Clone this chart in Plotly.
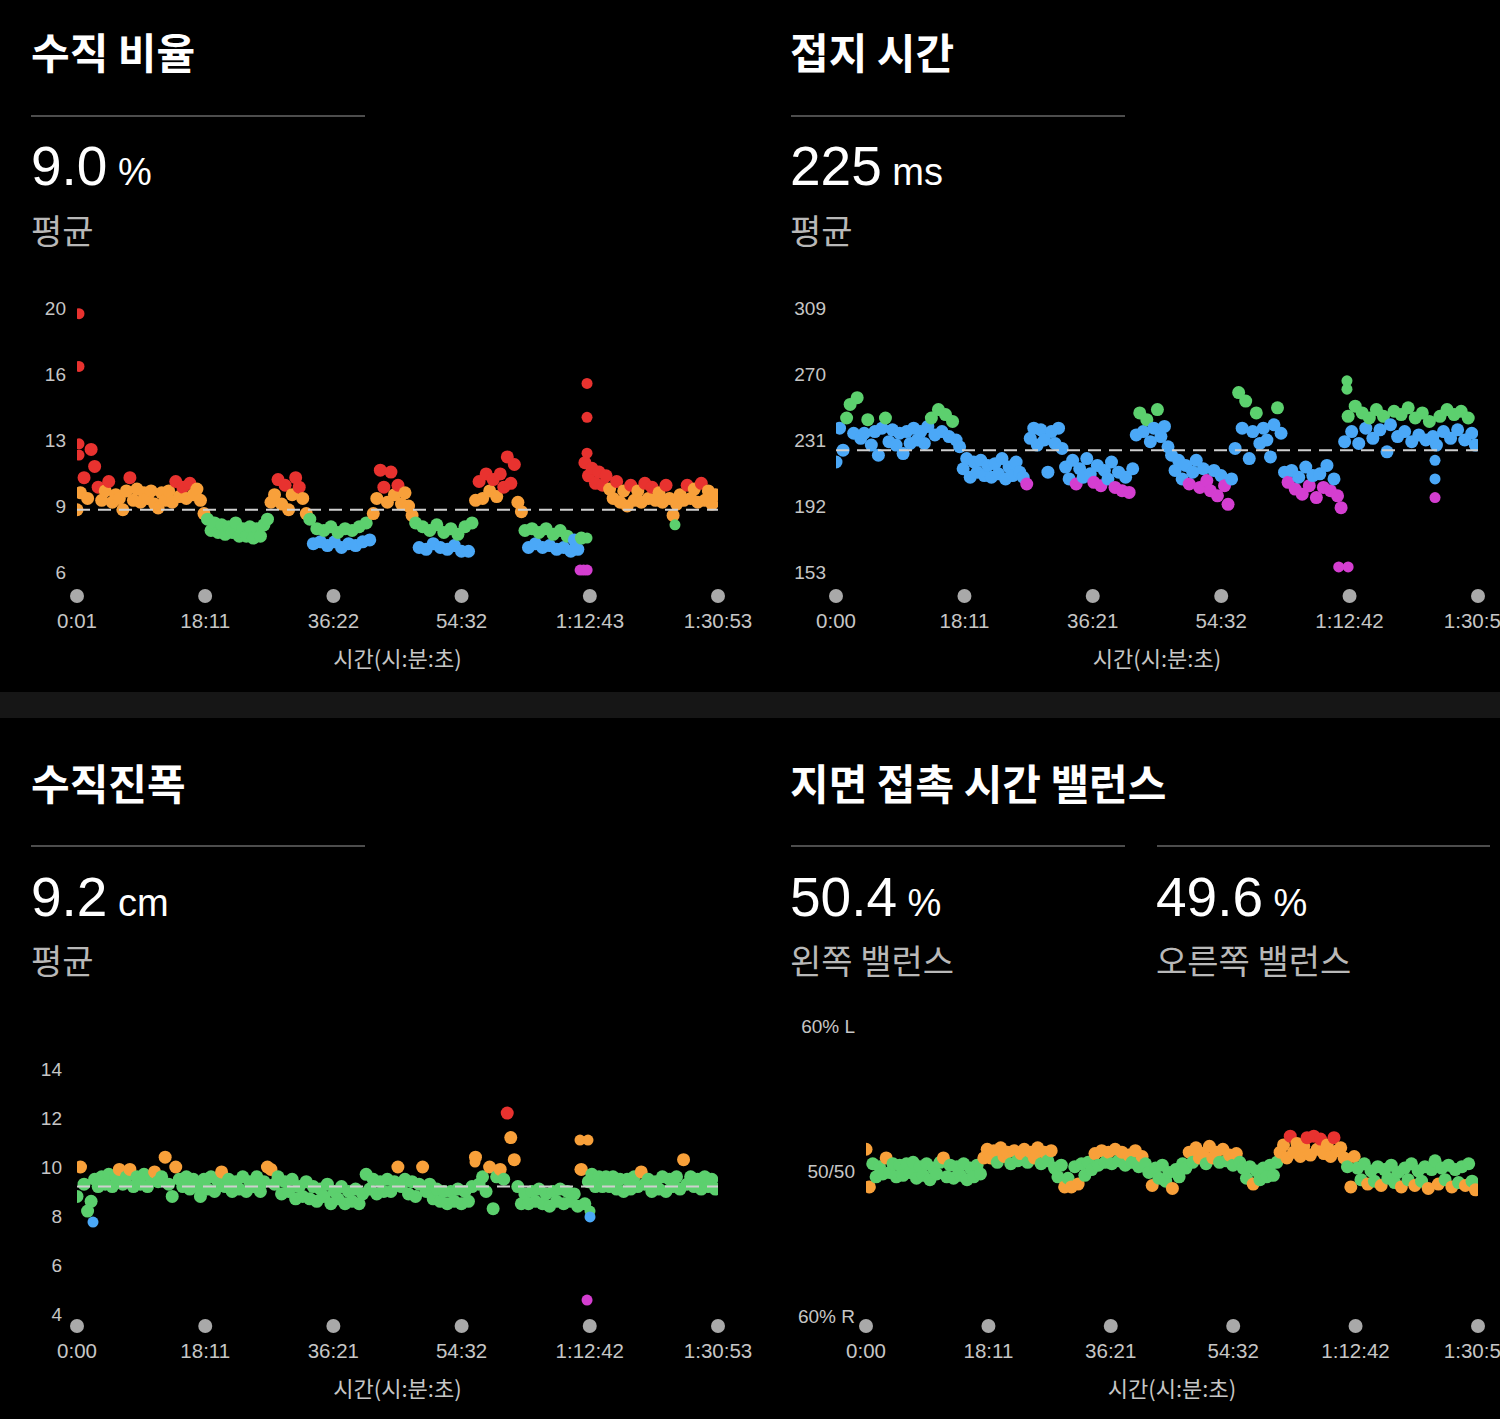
import plotly.graph_objects as go

W, H = 1500, 1419
STEP_S = 30  # seconds between plotted samples

# ---------------- data ----------------
# Vertical ratio (%), samples every 30 s starting at 0:01
vr_vals = [
    9.0, 9.9, 10.7, 9.6, 12.2, 11.3, 10.2, 9.5, 10.0, 10.5,
    9.4, 9.8, 9.6, 9.0, 10.0, 10.7, 9.5, 10.1, 9.4, 9.9,
    9.6, 10.0, 9.3, 9.1, 9.9, 9.5, 10.0, 9.4, 10.5, 9.7,
    10.2, 9.6, 10.4, 9.8, 10.1, 9.5, 8.8, 8.5, 7.9, 8.3,
    7.8, 8.2, 7.7, 8.1, 7.8, 8.3, 7.6, 8.0, 7.6, 8.1,
    7.5, 8.0, 7.6, 8.2, 8.5, 9.4, 9.8, 10.6, 9.3, 10.3,
    9.0, 9.8, 10.7, 10.2, 9.6, 8.8, 8.5, 7.2, 8.0, 7.3,
    7.9, 7.1, 8.1, 7.3, 7.8, 7.0, 8.0, 7.2, 7.9, 7.1,
    8.1, 7.3, 8.3, 7.4, 8.8, 9.6, 11.1, 10.2, 9.4, 11.0,
    9.8, 10.3, 9.3, 9.9, 9.2, 8.7, 8.3, 7.0, 8.1, 6.9,
    7.9, 7.2, 8.2, 7.0, 7.8, 6.9, 8.0, 7.1, 7.7, 6.8,
    8.1, 6.8, 8.3, 9.5, 10.5, 9.6, 10.9, 10.0, 10.6, 9.7,
    10.9, 10.2, 11.8, 10.4, 11.4, 9.4, 8.9, 7.9, 7.0, 8.0,
    7.2, 7.8, 7.0, 8.0, 7.1, 7.7, 6.9, 7.9, 7.0, 7.6,
    6.8, 7.4, 6.9, 7.5, 11.5, 10.8, 11.2, 10.4, 11.0, 10.3,
    10.8, 10.1, 9.6, 10.5, 9.4, 10.0, 9.2, 10.3, 9.5, 10.0,
    9.4, 10.4, 9.6, 10.2, 9.5, 9.9, 9.4, 10.3, 9.6, 8.7,
    9.3, 9.8, 9.5, 10.3, 9.6, 10.1, 9.4, 10.4, 9.5, 10.0,
    9.3, 9.8,
]
vr_extra_t = [18, 18, 18, 18, 4339, 4339, 4339, 4280, 4310, 4340, 4339, 5087]
vr_extra_v = [19.4, 16.6, 12.5, 11.9, 15.7, 13.9, 12.0, 5.8, 5.8, 5.8, 7.5, 8.2]

# Ground contact time (ms), samples every 30 s starting at 0:00
gct_vals = [
    218, 238, 225, 244, 252, 235, 256, 232, 235, 243,
    228, 236, 222, 238, 244, 230, 237, 228, 235, 223,
    236, 229, 238, 231, 236, 229, 239, 244, 234, 249,
    236, 246, 233, 242, 231, 227, 214, 220, 209, 218,
    212, 219, 210, 216, 209, 217, 211, 220, 208, 215,
    210, 218, 212, 209, 205, 232, 238, 228, 237, 231,
    212, 236, 229, 238, 226, 215, 208, 219, 205, 214,
    209, 220, 211, 206, 216, 204, 213, 208, 218, 203,
    212, 201, 209, 200, 214, 234, 247, 236, 243, 230,
    238, 249, 233, 239, 227, 222, 213, 219, 208, 216,
    205, 212, 219, 203, 214, 207, 201, 213, 198, 210,
    204, 193, 208, 226, 259, 238, 254, 220, 236, 247,
    229, 238, 231, 221, 240, 250, 235, 212, 206, 213,
    202, 209, 199, 215, 204, 210, 197, 211, 203, 216,
    201, 208, 198, 191, 230, 245, 236, 251, 229, 247,
    238, 244, 232, 249, 237, 245, 224, 240, 248, 233,
    246, 236, 250, 230, 244, 234, 247, 231, 242, 233,
    228, 245, 236, 249, 232, 246, 237, 248, 231, 244,
    235, 228,
]
gct_extra_t = [4340, 4340, 4270, 4350, 5088, 5088, 5088]
gct_extra_v = [266, 261, 156, 156, 219, 208, 197]

# Vertical oscillation (cm)
vo_vals = [
    8.8, 10.0, 9.3, 8.2, 8.6, 9.5, 9.2, 9.6, 9.3, 9.7,
    9.2, 9.6, 9.9, 9.3, 9.6, 9.9, 9.2, 9.6, 9.3, 9.7,
    9.2, 9.6, 9.8, 9.4, 9.6, 10.4, 9.3, 8.8, 10.0, 9.5,
    9.2, 9.6, 9.1, 9.5, 9.2, 8.8, 9.5, 9.1, 9.6, 9.0,
    9.4, 9.8, 9.2, 9.5, 9.0, 9.4, 9.1, 9.6, 9.0, 9.4,
    9.2, 9.6, 9.0, 9.4, 10.0, 9.9, 9.3, 9.6, 8.9, 9.4,
    9.0, 9.5, 8.7, 9.2, 8.8, 9.4, 8.7, 9.2, 8.6, 9.1,
    8.8, 9.3, 8.5, 9.0, 8.7, 9.2, 8.5, 9.0, 8.6, 9.1,
    8.5, 8.9, 9.7, 9.1, 9.5, 8.9, 9.4, 9.0, 9.5, 9.0,
    9.4, 10.0, 9.2, 9.5, 8.9, 9.4, 8.8, 9.3, 10.0, 9.0,
    9.3, 8.7, 9.1, 8.6, 9.0, 8.5, 9.0, 8.6, 9.1, 8.5,
    9.0, 8.6, 9.2, 10.4, 9.3, 9.6, 9.0, 10.0, 8.3, 9.6,
    9.9, 9.5, 12.2, 11.2, 10.3, 9.2, 8.5, 8.9, 8.5, 9.0,
    8.6, 9.1, 8.5, 8.9, 8.4, 9.0, 8.6, 9.1, 8.5, 9.0,
    8.6, 8.9, 8.4, 9.9, 8.5, 9.4, 9.7, 9.2, 9.6, 9.2,
    9.6, 9.2, 9.6, 9.1, 9.5, 9.0, 9.5, 9.1, 9.6, 9.2,
    9.8, 9.3, 9.5, 9.0, 9.4, 9.1, 9.6, 9.0, 9.5, 9.2,
    9.6, 9.1, 10.3, 9.3, 9.6, 9.2, 9.5, 9.1, 9.6, 9.2,
    9.5, 9.1,
]
vo_extra_t = [136, 4279, 4347, 4279, 4364, 4364, 4339, 3386]
vo_extra_v = [7.75, 11.1, 11.1, 9.9, 8.2, 7.96, 4.57, 10.2]

# Ground contact time balance (% left)
gb_vals = [
    51.5, 48.9, 50.5, 49.6, 50.3, 49.8, 50.9, 49.9, 50.5, 49.6,
    50.4, 49.7, 50.5, 49.9, 50.6, 49.5, 50.3, 49.7, 50.5, 49.4,
    50.2, 49.8, 50.6, 50.9, 49.6, 50.4, 49.5, 50.3, 49.7, 50.5,
    49.4, 50.2, 49.6, 50.4, 49.8, 50.9, 51.5, 50.9, 51.4, 50.6,
    51.6, 51.0, 51.3, 50.5, 51.4, 50.7, 51.2, 51.5, 50.6, 51.3,
    50.9, 51.6, 50.5, 51.3, 50.7, 51.4, 50.2, 49.6, 50.4, 48.9,
    49.5, 48.9, 50.3, 49.1, 50.5, 49.7, 50.6, 50.1, 51.2, 50.4,
    51.4, 50.6, 51.3, 50.5, 51.5, 50.7, 51.3, 50.4, 51.1, 50.6,
    51.4, 50.3, 51.0, 50.5, 49.9, 49.0, 50.2, 49.5, 50.4, 49.3,
    49.9, 48.8, 50.1, 49.6, 50.5, 50.2, 51.3, 50.6, 51.6, 50.9,
    51.2, 50.5, 51.7, 50.9, 51.3, 50.6, 51.5, 50.7, 51.1, 50.4,
    51.2, 50.6, 50.2, 49.5, 50.3, 49.1, 50.0, 49.4, 50.2, 49.6,
    50.4, 49.7, 50.6, 51.3, 51.8, 50.9, 52.4, 51.3, 51.9, 51.0,
    51.7, 52.3, 51.1, 52.4, 51.5, 52.2, 51.2, 51.8, 51.0, 52.3,
    51.4, 51.6, 50.9, 50.3, 48.9, 51.0, 50.2, 49.4, 50.5, 49.1,
    50.0, 49.3, 50.3, 49.0, 50.1, 49.5, 50.4, 49.2, 49.9, 48.9,
    50.2, 49.4, 50.5, 49.0, 50.0, 49.3, 50.3, 48.8, 50.1, 50.7,
    49.1, 50.2, 49.4, 50.4, 48.9, 50.1, 49.2, 50.3, 49.0, 50.5,
    49.3, 48.7,
]

vr_avg, gct_avg, vo_avg = 9.0, 225, 9.2

vr_xtick_s = [1, 1091, 2182, 3272, 4363, 5453]
vr_xtick_text = ["0:01", "18:11", "36:22", "54:32", "1:12:43", "1:30:53"]
std_xtick_s = [0, 1091, 2181, 3272, 4362, 5453]
std_xtick_text = ["0:00", "18:11", "36:21", "54:32", "1:12:42", "1:30:53"]

vr_ytick_vals = [5.7, 9.2, 12.7, 16.2, 19.7]
vr_ytick_text = ["6", "9", "13", "16", "20"]
gct_ytick_vals = [153, 192, 231, 270, 309]
gct_ytick_text = ["153", "192", "231", "270", "309"]
vo_ytick_vals = [4, 6, 8, 10, 12, 14]
vo_ytick_text = ["4", "6", "8", "10", "12", "14"]
gb_ytick_vals = [40, 50, 60]
gb_ytick_text = ["60% R", "50/50", "60% L"]

# ---------------- colours ----------------
RED, ORANGE, GREEN, BLUE, PURPLE = "#e8322f", "#f8a03a", "#5cd06e", "#4ba8f7", "#d43ed0"


def vr_color(v):
    if v < 6.1:
        return PURPLE
    if v < 7.45:
        return BLUE
    if v < 8.65:
        return GREEN
    if v < 10.15:
        return ORANGE
    return RED


def gct_color(v):
    if v < 208:
        return PURPLE
    if v <= 240:
        return BLUE
    if v <= 272:
        return GREEN
    if v <= 305:
        return ORANGE
    return RED


def vo_color(v):
    if v < 6.4:
        return PURPLE
    if v < 8.15:
        return BLUE
    if v <= 9.75:
        return GREEN
    if v <= 11.5:
        return ORANGE
    return RED


def gb_color(v):
    d = abs(round(v - 50, 2))
    if d <= 0.8:
        return GREEN
    if d <= 2.0:
        return ORANGE
    return RED


# ---------------- layout helpers ----------------
TICK_COLOR = "#c6c6c6"
NUM_FONT = "Liberation Sans, Arial, sans-serif"
KR_FONT = "Noto Sans CJK KR, sans-serif"
AX_FONT = "Liberation Sans, Noto Sans CJK KR, sans-serif"

# pixel box (x0, x1, ytop, ybot), x-range in seconds, y reference (value, pixel, px per unit)
panels = [
    dict(box=(77, 718, 300, 606), xr=(1, 5453), yref=(5.7, 572, 66 / 3.5), dot_px=596,
         xt=vr_xtick_s, xtt=vr_xtick_text, yt=vr_ytick_vals, ytt=vr_ytick_text, ystand=10),
    dict(box=(836, 1478, 300, 606), xr=(0, 5453), yref=(153, 572, 66 / 39), dot_px=596,
         xt=std_xtick_s, xtt=std_xtick_text, yt=gct_ytick_vals, ytt=gct_ytick_text, ystand=9),
    dict(box=(77, 718, 1040, 1336), xr=(0, 5453), yref=(4, 1314, 24.5), dot_px=1326,
         xt=std_xtick_s, xtt=std_xtick_text, yt=vo_ytick_vals, ytt=vo_ytick_text, ystand=14),
    dict(box=(866, 1478, 1010, 1336), xr=(0, 5453), yref=(50, 1171, 14.5), dot_px=1326,
         xt=std_xtick_s, xtt=std_xtick_text, yt=gb_ytick_vals, ytt=gb_ytick_text, ystand=10),
]


def px_to_val(p, px):
    v0, p0, ppu = p["yref"]
    return v0 - (px - p0) / ppu


fig = go.Figure()
layout = {}

series = [
    (vr_vals, 1, vr_extra_t, vr_extra_v, vr_color, vr_avg),
    (gct_vals, 0, gct_extra_t, gct_extra_v, gct_color, gct_avg),
    (vo_vals, 0, vo_extra_t, vo_extra_v, vo_color, vo_avg),
    (gb_vals, 0, [], [], gb_color, None),
]

for k, (p, (vals, t0, et, ev, cfun, avg)) in enumerate(zip(panels, series)):
    n = "" if k == 0 else str(k + 1)
    xa, ya = "x" + n, "y" + n
    x0, x1, yt, yb = p["box"]
    layout["xaxis" + n] = dict(
        domain=[x0 / W, x1 / W], range=list(p["xr"]), anchor=ya,
        tickvals=p["xt"], ticktext=p["xtt"], showgrid=False, zeroline=False,
        showline=False, ticks="", ticklabeloverflow="allow", ticklabelstandoff=0,
        tickfont=dict(size=20.5, color=TICK_COLOR, family=AX_FONT),
        title=dict(text="시간(시:분:초)", font=dict(size=22, color=TICK_COLOR, family=KR_FONT),
                   standoff=21),
        automargin=False, fixedrange=True,
    )
    layout["yaxis" + n] = dict(
        domain=[1 - yb / H, 1 - yt / H], range=[px_to_val(p, yb), px_to_val(p, yt)],
        anchor=xa, tickvals=p["yt"], ticktext=p["ytt"], showgrid=False, zeroline=False,
        showline=False, ticks="", ticklabelstandoff=p["ystand"],
        tickfont=dict(size=19, color=TICK_COLOR, family=AX_FONT),
        automargin=False, fixedrange=True,
    )
    ts = [t0 + STEP_S * i for i in range(len(vals))]
    allx = ts + list(et)
    ally = list(vals) + list(ev)
    sizes = [13] * len(vals) + [11] * len(ev)
    fig.add_trace(go.Scatter(
        x=allx, y=ally, mode="markers", xaxis=xa, yaxis=ya,
        marker=dict(size=sizes, opacity=1, color=[cfun(v) for v in ally], line=dict(width=0)),
        hoverinfo="skip", showlegend=False,
    ))
    if avg is not None:
        fig.add_trace(go.Scatter(
            x=list(p["xr"]), y=[avg, avg], mode="lines", xaxis=xa, yaxis=ya,
            line=dict(color="#cfcfcf", width=2, dash="13px,8px"),
            hoverinfo="skip", showlegend=False,
        ))
    dy = px_to_val(p, p["dot_px"])
    fig.add_trace(go.Scatter(
        x=p["xt"], y=[dy] * len(p["xt"]), mode="markers", xaxis=xa, yaxis=ya,
        marker=dict(size=14, color="#a9a9a9", opacity=1), cliponaxis=False,
        hoverinfo="skip", showlegend=False,
    ))


def ypap(px):
    return 1 - px / H


annotations = []


def text(x, y, s, size, color="#ffffff", family=KR_FONT, weight="normal"):
    annotations.append(dict(
        x=x / W, y=ypap(y), xref="paper", yref="paper", xanchor="left", yanchor="middle",
        text=s, showarrow=False, font=dict(size=size, color=color, family=family, weight=weight),
    ))


SUB = "#b8b8b8"
# headers
text(29, 51, "수직 비율", 42, weight="bold")
text(788, 51, "접지 시간", 42, weight="bold")
text(29, 781, "수직진폭", 42, weight="bold")
text(788, 781, "지면 접촉 시간 밸런스", 42, weight="bold")

big = "{}<span style='font-size:38px'> {}</span>"
text(29, 166, big.format("9.0", "%"), 55, family=NUM_FONT)
text(788, 166, big.format("225", "ms"), 55, family=NUM_FONT)
text(29, 897, big.format("9.2", "cm"), 55, family=NUM_FONT)
text(788, 897, big.format("50.4", "%"), 55, family=NUM_FONT)
text(1154, 897, big.format("49.6", "%"), 55, family=NUM_FONT)

text(29, 229, "평균", 34, color=SUB)
text(788, 229, "평균", 34, color=SUB)
text(29, 959, "평균", 34, color=SUB)
text(788, 959, "왼쪽 밸런스", 34, color=SUB)
text(1154, 959, "오른쪽 밸런스", 34, color=SUB)

shapes = [
    dict(type="rect", xref="paper", yref="paper", x0=0, x1=1, y0=ypap(718), y1=ypap(692),
         fillcolor="#161616", line=dict(width=0), layer="below"),
]
for (lx0, lx1, ly) in [(31, 365, 116), (791, 1125, 116), (31, 365, 846),
                       (791, 1125, 846), (1157, 1490, 846)]:
    shapes.append(dict(type="line", xref="paper", yref="paper", x0=lx0 / W, x1=lx1 / W,
                       y0=ypap(ly), y1=ypap(ly), line=dict(color="#4d4d4d", width=2)))

fig.update_layout(
    width=W, height=H, margin=dict(l=0, r=0, t=0, b=0),
    paper_bgcolor="#000000", plot_bgcolor="#000000",
    font=dict(family=AX_FONT, color=TICK_COLOR),
    annotations=annotations, shapes=shapes, showlegend=False,
    **layout,
)

fig.write_html("out.html", config={"displayModeBar": False})
